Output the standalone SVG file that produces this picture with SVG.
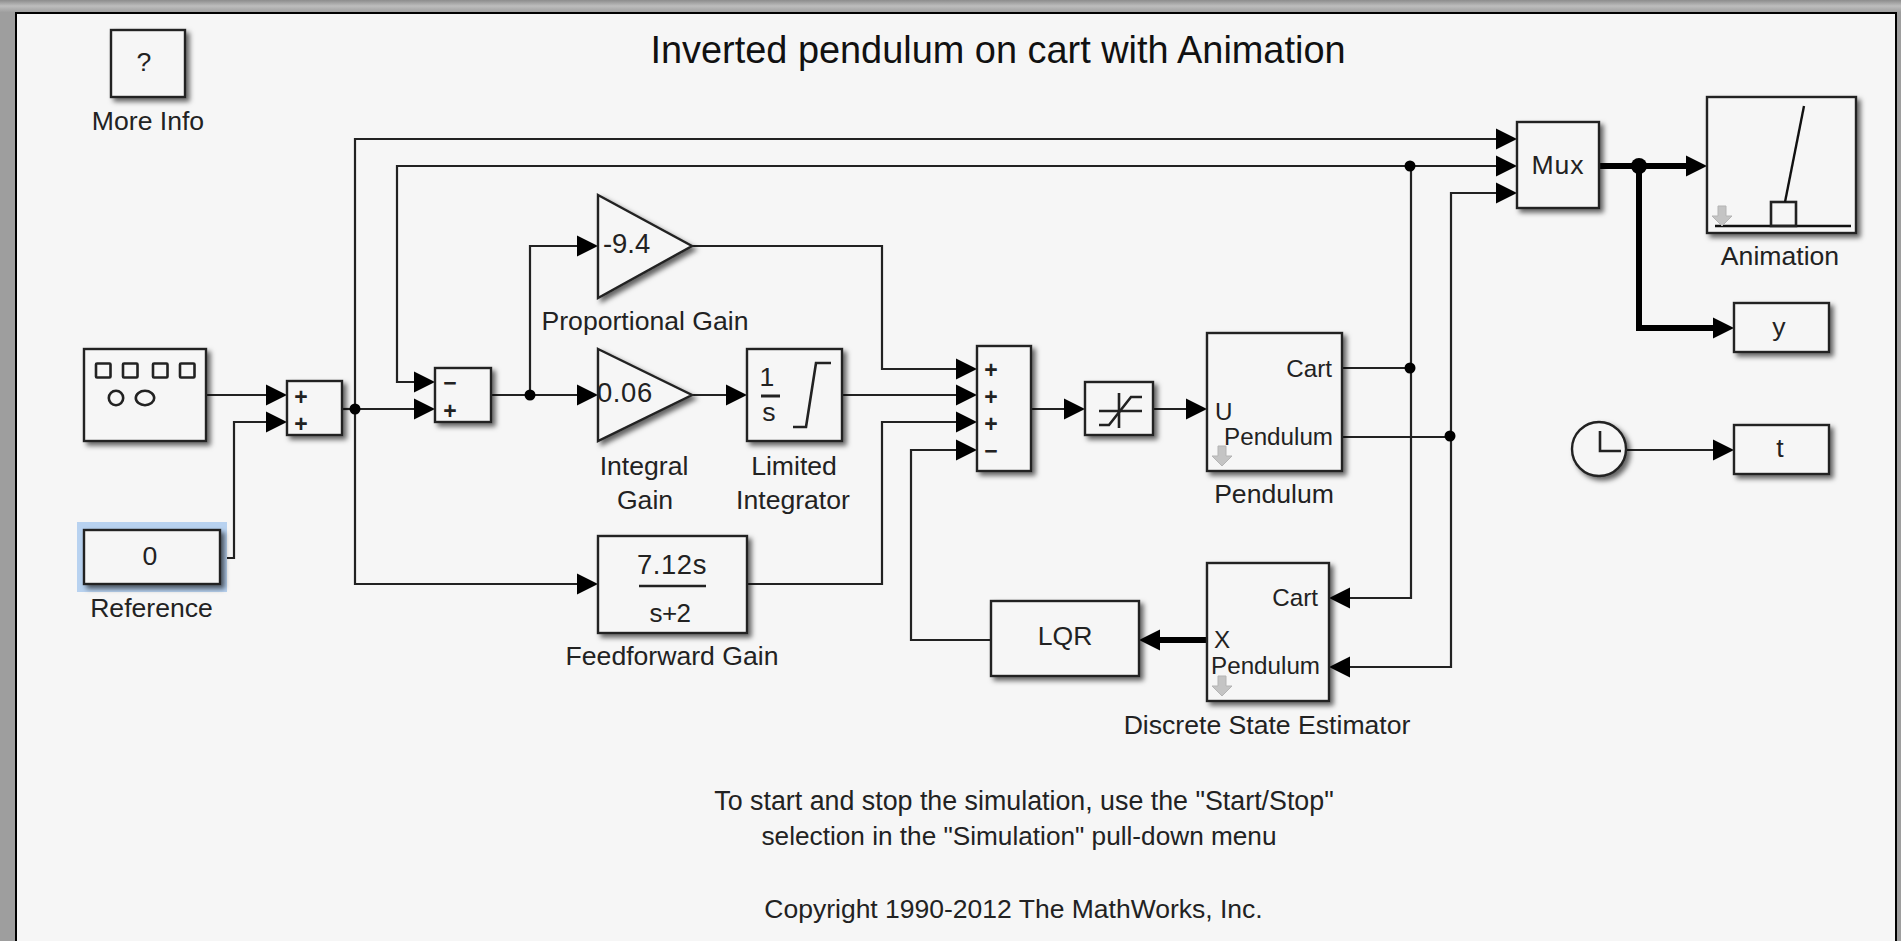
<svg xmlns="http://www.w3.org/2000/svg" width="1901" height="941" viewBox="0 0 1901 941">
<defs>
<linearGradient id="top" x1="0" y1="0" x2="0" y2="1"><stop offset="0" stop-color="#8c8c8c"/><stop offset="0.5" stop-color="#bdbdbd"/><stop offset="1" stop-color="#a0a0a0"/></linearGradient>
<filter id="sh" x="-20%" y="-20%" width="150%" height="150%"><feDropShadow dx="3.5" dy="3.5" stdDeviation="2.6" flood-color="#000" flood-opacity="0.6"/></filter>
<marker id="a" markerUnits="userSpaceOnUse" markerWidth="22" markerHeight="22" refX="19" refY="11" orient="auto"><path d="M0,0.5L21,11L0,21.5Z" fill="#000"/></marker>
<marker id="at" markerUnits="userSpaceOnUse" markerWidth="22" markerHeight="22" refX="11" refY="11" orient="auto"><path d="M0,0.5L21,11L0,21.5Z" fill="#000"/></marker>
<path id="dn" d="M-4,-10H4V0H10L0,10L-10,0H-4Z" fill="#c4c4c4" stroke="#b4b4b4" stroke-width="1"/>
</defs>
<style>
text{font-family:"Liberation Sans",Arial,sans-serif;font-size:26.6px;fill:#222}
.c{text-anchor:middle}
.e{text-anchor:end}
.p{font-size:24.2px}
.g{font-size:27.4px;letter-spacing:.6px}
.b{fill:#f6f6f6;stroke:#222;stroke-width:2.4;filter:url(#sh)}
.i{fill:none;stroke:#222;stroke-width:2.6}
.w{fill:none;stroke:#222;stroke-width:2.2}
.w.n{marker-end:url(#a)}
.t{fill:none;stroke:#000;stroke-width:6}
.t.n{marker-end:url(#at)}
.j{fill:#000}
.s{font-size:23px;font-weight:bold}
</style>
<rect width="1901" height="941" fill="#f6f6f6"/>
<rect width="1901" height="12" fill="url(#top)"/>
<rect y="12" width="15" height="929" fill="#9e9e9e"/>
<rect x="1897" y="12" width="4" height="929" fill="#9e9e9e"/>
<path d="M16,941V13H1896V941" fill="none" stroke="#000" stroke-width="2"/>
<text x="998" y="63" class="c" style="font-size:37.9px;fill:#111">Inverted pendulum on cart with Animation</text>

<g id="connectors">
<path class="w n" d="M206,395H285"/>
<path class="w n" d="M220,558H234V422H285"/>
<path class="w" d="M342,409H355"/>
<path class="w n" d="M355,409H433"/>
<path class="w n" d="M355,409V139H1515"/>
<path class="w n" d="M355,409V584H596"/>
<path class="w n" d="M1411,166H397V382H433"/>
<path class="w n" d="M1411,166H1515"/>
<path class="w n" d="M491,395H596"/>
<path class="w n" d="M530,395V246H596"/>
<path class="w n" d="M692,395H745"/>
<path class="w n" d="M692,246H882V369H975"/>
<path class="w n" d="M842,395H975"/>
<path class="w n" d="M747,584H882V422H975"/>
<path class="w n" d="M991,640H911V450H975"/>
<path class="w n" d="M1031,409H1083"/>
<path class="w n" d="M1153,409H1205"/>
<path class="w" d="M1342,368H1411"/>
<path class="w n" d="M1411,166V598H1331"/>
<path class="w" d="M1342,437H1451"/>
<path class="w n" d="M1451,437V193H1515"/>
<path class="w n" d="M1451,437V667H1331"/>
<path class="t n" d="M1207,640H1149"/>
<path class="t n" d="M1599,166H1697"/>
<path class="t n" d="M1639,166V328H1724"/>
<path class="w n" d="M1626,450H1732"/>
<circle class="j" cx="355" cy="409" r="5.5"/>
<circle class="j" cx="530" cy="395" r="5.5"/>
<circle class="j" cx="1410" cy="166" r="5.5"/>
<circle class="j" cx="1410" cy="368" r="5.5"/>
<circle class="j" cx="1450" cy="436" r="5.5"/>
<circle class="j" cx="1639" cy="166" r="8"/>
</g>

<g id="more-info"><rect class="b" x="111" y="30" width="74" height="67"/><text x="144" y="71" class="c">?</text><text x="148" y="130" class="c">More Info</text></g>
<g id="signal"><rect class="b" x="84" y="349" width="122" height="92"/>
<g class="i"><rect x="96" y="363.500" width="14.500" height="14" rx="1"/><rect x="123" y="363.500" width="14.500" height="14" rx="1"/><rect x="153" y="363.500" width="14.500" height="14" rx="1"/><rect x="180" y="363.500" width="14.500" height="14" rx="1"/><circle cx="116" cy="398" r="7.200"/><ellipse cx="145" cy="398" rx="9.200" ry="7.200"/></g></g>
<g id="reference"><rect x="77" y="522" width="150" height="70" fill="#b8d2f0"/><rect class="b" x="84" y="530" width="136" height="54"/><text x="150" y="565" class="c">0</text><text x="151.500" y="617" class="c">Reference</text></g>
<g id="sum1"><rect class="b" x="287" y="381" width="55" height="54"/><text x="301" y="405" class="c s">+</text><text x="301" y="432" class="c s">+</text></g>
<g id="sum2"><rect class="b" x="435" y="368" width="56" height="54"/><text x="450" y="391" class="c s">−</text><text x="450" y="419" class="c s">+</text></g>
<g id="proportional-gain"><path class="b" d="M598,195L692,246L598,298Z"/><text x="603" y="253" class="g" style="letter-spacing:0">-9.4</text><text x="645" y="330" class="c">Proportional Gain</text></g>
<g id="integral-gain"><path class="b" d="M598,349L692,395L598,441Z"/><text x="597" y="402" class="g">0.06</text><text x="644" y="475" class="c">Integral</text><text x="645" y="509" class="c">Gain</text></g>
<g id="integrator"><rect class="b" x="747" y="349" width="95" height="92"/><text x="767" y="386" class="c">1</text><path d="M761,396H780" stroke="#222" stroke-width="3"/><text x="769" y="421" class="c">s</text><path class="i" d="M793,427H806L816,363H831"/><text x="794" y="475" class="c">Limited</text><text x="793" y="509" class="c">Integrator</text></g>
<g id="feedforward"><rect class="b" x="598" y="536" width="149" height="97"/><text x="672" y="574" class="c g">7.12s</text><path d="M639,586H706" stroke="#222" stroke-width="2.400"/><text x="670" y="622" class="c" style="font-size:26px;letter-spacing:-.5px">s+2</text><text x="672" y="665" class="c">Feedforward Gain</text></g>
<g id="sum3"><rect class="b" x="977" y="346" width="54" height="125"/><text x="991" y="378" class="c s">+</text><text x="991" y="405" class="c s">+</text><text x="991" y="432" class="c s">+</text><text x="991" y="459" class="c s">−</text></g>
<g id="saturation"><rect class="b" x="1085" y="382" width="68" height="53"/><g class="i"><path d="M1099,425H1109L1131,397H1142"/><path d="M1099,411H1142"/><path d="M1119,393V428"/></g></g>
<g id="pendulum"><rect class="b" x="1207" y="333" width="135" height="138"/><text x="1332" y="377" class="e p">Cart</text><text x="1215" y="420" class="p">U</text><text x="1333" y="445" class="e p">Pendulum</text><use href="#dn" x="1222" y="456"/><text x="1274" y="503" class="c">Pendulum</text></g>
<g id="estimator"><rect class="b" x="1207" y="563" width="122" height="138"/><text x="1318" y="606" class="e p">Cart</text><text x="1214" y="648" class="p">X</text><text x="1320" y="674" class="e p">Pendulum</text><use href="#dn" x="1222" y="686"/><text x="1267" y="734" class="c">Discrete State Estimator</text></g>
<g id="lqr"><rect class="b" x="991" y="601" width="148" height="75"/><text x="1065" y="645" class="c">LQR</text></g>
<g id="mux"><rect class="b" x="1517" y="122" width="82" height="86"/><text x="1558" y="174" class="c" style="letter-spacing:1px">Mux</text></g>
<g id="animation"><rect class="b" x="1707" y="97" width="149" height="136"/><path d="M1715,226H1851" stroke="#111" stroke-width="2.400"/><rect class="i" x="1771" y="202" width="25" height="24"/><path d="M1785,202L1804,106" stroke="#111" stroke-width="2.400"/><use href="#dn" x="1722" y="216"/><text x="1780" y="265" class="c">Animation</text></g>
<g id="y"><rect class="b" x="1734" y="303" width="95" height="49"/><text x="1779" y="336" class="c">y</text></g>
<g id="clock"><circle class="b" cx="1599" cy="449" r="27"/><path class="i" d="M1600,431V451H1621"/></g>
<g id="t"><rect class="b" x="1734" y="425" width="95" height="49"/><text x="1780" y="457" class="c">t</text></g>
<g id="notes"><text x="1024" y="810" class="c" style="font-size:26.8px">To start and stop the simulation, use the "Start/Stop"</text><text x="1019" y="845" class="c" style="font-size:26.2px">selection in the "Simulation" pull-down menu</text><text x="1013.500" y="918" class="c" style="font-size:26.5px">Copyright 1990-2012 The MathWorks, Inc.</text></g>
</svg>
